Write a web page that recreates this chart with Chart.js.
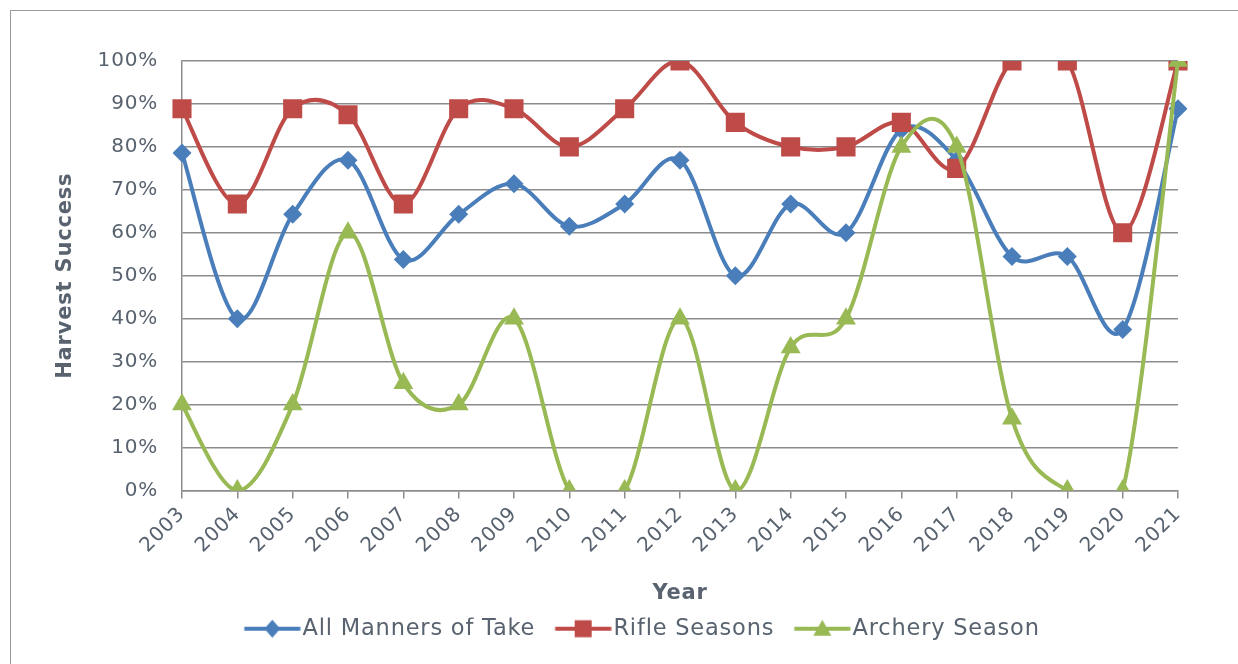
<!DOCTYPE html>
<html>
<head>
<meta charset="utf-8">
<script src="https://cdn.jsdelivr.net/npm/chart.js@4"></script>
<style>
  html, body { margin: 0; padding: 0; background: #fff; overflow: hidden; }
  #frame { position: absolute; left: 10px; top: 10px; width: 1300px; height: 700px; border: 1px solid #9a9a9a; }
  #wrap { position: absolute; left: 0; top: 0; width: 1238px; height: 664px; }
</style>
</head>
<body>
<div id="frame"></div>
<div id="wrap"><canvas id="chart" width="1238" height="664"></canvas></div>
<script>
// === DATA ===
const years = ["2003", "2004", "2005", "2006", "2007", "2008", "2009", "2010", "2011", "2012",
               "2013", "2014", "2015", "2016", "2017", "2018", "2019", "2020", "2021"];
const allManners = [0.786, 0.40, 0.643, 0.769, 0.538, 0.643, 0.714, 0.615, 0.667, 0.769,
                    0.50, 0.667, 0.60, 0.84, 0.769, 0.545, 0.545, 0.375, 0.889];
const rifle = [0.889, 0.667, 0.889, 0.875, 0.667, 0.889, 0.889, 0.80, 0.889, 1.0,
               0.857, 0.80, 0.80, 0.857, 0.75, 1.0, 1.0, 0.60, 1.0];
const archery = [0.20, 0.0, 0.20, 0.60, 0.25, 0.20, 0.40, 0.0, 0.0, 0.40,
                 0.0, 0.333, 0.40, 0.80, 0.80, 0.167, 0.0, 0.0, 1.0];
const yTicks = [0, 0.1, 0.2, 0.3, 0.4, 0.5, 0.6, 0.7, 0.8, 0.9, 1.0];

const BLUE = "#4A7EBB", RED = "#BE4B48", GREEN = "#98B954";
const TEXT = "#58636f", GRID = "#8c8c8c";
const FONT = "'DejaVu Sans', sans-serif";

// segments lying flat on the plot edge get clipped away (like the original)
const edgeGap = color => ctx => {
    const a = ctx.p0.parsed.y, b = ctx.p1.parsed.y;
    if ((a === 0 && b === 0) || (a === 1 && b === 1)) return "rgba(0,0,0,0)";
    return color;
};

// legend icon: line with marker; canvas is centred on the box, line sits on its right part
function legendIcon(color, style) {
    const c = document.createElement("canvas");
    c.width = 86; c.height = 24;
    const g = c.getContext("2d");
    const cx = 57.5;
    g.strokeStyle = color; g.fillStyle = color; g.lineWidth = 4;
    g.beginPath(); g.moveTo(29.5, 12); g.lineTo(85.5, 12); g.stroke();
    g.beginPath();
    if (style === "rectRot") { g.moveTo(cx, 3); g.lineTo(cx + 8, 12); g.lineTo(cx, 21); g.lineTo(cx - 8, 12); }
    else if (style === "rect") { g.rect(cx - 8.5, 3.5, 17, 17); }
    else { g.moveTo(cx, 3); g.lineTo(cx + 9, 19); g.lineTo(cx - 9, 19); }
    g.closePath(); g.fill();
    return c;
}

// Excel-like smoothing: uniform Catmull-Rom tangents from the library's point positions
const uniformSpline = {
    id: "uniformSpline",
    beforeDatasetDraw(chart, args) {
        const pts = args.meta.data;
        pts.forEach((p, i) => {
            const prev = pts[i - 1] || p, next = pts[i + 1] || p;
            const dx = (next.x - prev.x) / 6, dy = (next.y - prev.y) / 6;
            p.cp1x = p.x - dx; p.cp1y = p.y - dy;
            p.cp2x = p.x + dx; p.cp2y = p.y + dy;
        });
        args.meta.dataset._pointsUpdated = true;
    }
};

// slightly wider text spacing, closer to the original font
const spacing = {
    id: "spacing",
    beforeLayout(chart) { chart.ctx.letterSpacing = "0.8px"; },
    beforeDraw(chart) { chart.ctx.letterSpacing = "0.8px"; }
};

const series = [
    { label: "All Manners of Take", data: allManners, color: BLUE, style: "rectRot", radius: 9.5, order: 2 },
    { label: "Rifle Seasons", data: rifle, color: RED, style: "rect", radius: 13.5, order: 1 },
    { label: "Archery Season", data: archery, color: GREEN, style: "triangle", radius: 11.5, order: 0 }
];

new Chart(document.getElementById("chart"), {
    type: "line",
    plugins: [uniformSpline, spacing],
    data: {
        labels: years,
        datasets: series.map(s => ({
            label: s.label,
            data: s.data,
            borderColor: s.color,
            backgroundColor: s.color,
            borderWidth: 4,
            tension: 0.4,
            pointStyle: s.style,
            pointRadius: s.radius,
            pointBorderWidth: 0,
            pointBackgroundColor: s.color,
            order: s.order,
            segment: { borderColor: edgeGap(s.color) }
        }))
    },
    options: {
        responsive: false,
        animation: false,
        devicePixelRatio: 1,
        layout: { padding: { top: 61, left: 26, right: 0, bottom: 14 } },
        plugins: {
            tooltip: { enabled: false },
            legend: {
                position: "bottom",
                labels: {
                    usePointStyle: true,
                    pointStyleWidth: 67,
                    padding: 0,
                    color: TEXT,
                    font: { family: FONT, size: 22.5 },
                    generateLabels: chart => series.map((s, i) => ({
                        text: s.label,
                        pointStyle: legendIcon(s.color, s.style),
                        fillStyle: s.color,
                        strokeStyle: s.color,
                        lineWidth: 0,
                        fontColor: TEXT,
                        hidden: false,
                        datasetIndex: i
                    }))
                }
            }
        },
        scales: {
            x: {
                offset: false,
                grid: { drawOnChartArea: false, color: GRID, lineWidth: 1.5, tickLength: 8 },
                border: { color: GRID, width: 1.5 },
                ticks: { color: TEXT, font: { family: FONT, size: 20 }, minRotation: 45, maxRotation: 45, padding: 4, autoSkip: false },
                title: { display: true, text: "Year", color: TEXT, font: { family: FONT, size: 21, weight: "bold" }, padding: { top: 0, bottom: 11 } },
                afterFit: sc => { sc.height = 127; }
            },
            y: {
                min: 0, max: 1,
                afterBuildTicks: sc => { sc.ticks = yTicks.map(v => ({ value: v })); },
                grid: { color: GRID, lineWidth: 1.5, drawTicks: false },
                border: { color: GRID, width: 1.5 },
                ticks: { color: TEXT, font: { family: FONT, size: 20 }, padding: 24, callback: v => Math.round(v * 100) + "%" },
                title: { display: true, text: "Harvest Success", color: TEXT, font: { family: FONT, size: 21, weight: "bold" }, padding: { top: 27, bottom: 0 } },
                afterFit: sc => { sc.width = 156; }
            },
            y2: {
                position: "right",
                display: true,
                grid: { display: false, drawTicks: false },
                border: { display: false },
                ticks: { display: false },
                afterFit: sc => { sc.width = 60; }
            }
        }
    }
});
</script>
</body>
</html>
